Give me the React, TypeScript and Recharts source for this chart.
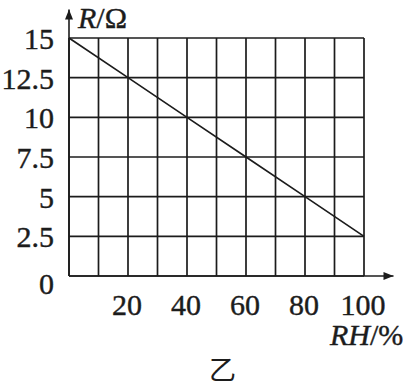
import { CartesianGrid, Line, LineChart, ReferenceLine, XAxis, YAxis } from "recharts";

const rh = [0, 20, 40, 60, 80, 100];
const resistance = [15, 12.5, 10, 7.5, 5, 2.5];
const xTicks = [0, 10, 20, 30, 40, 50, 60, 70, 80, 90, 100];
const yTicks = [0, 2.5, 5, 7.5, 10, 12.5, 15];

const data = rh.map((x, i) => ({ rh: x, r: resistance[i] }));

const ink = "#1c1c1c";
const serif = "Liberation Serif";
const textStyle = { fontFamily: serif, fontSize: 30 };

function Arrow(props: any) {
  const { x1, y1, x2, y2 } = props;
  const vertical = Math.abs(x1 - x2) < 1;
  const head = vertical
    ? `${x2},${y2} ${x2 - 4},${y2 + 10} ${x2 + 4},${y2 + 10}`
    : `${x2},${y2} ${x2 - 10},${y2 - 4} ${x2 - 10},${y2 + 4}`;
  return (
    <g>
      <line x1={x1} y1={y1} x2={x2} y2={y2} stroke={ink} strokeWidth={1.6} />
      <polygon points={head} fill={ink} />
    </g>
  );
}

function XTick({ x, y, payload }: any) {
  const v = payload.value;
  if (v === 0 || v % 20 !== 0) return null;
  return (
    <text x={x - 1} y={y + 31} textAnchor="middle" style={textStyle} fill={ink} stroke={ink} strokeWidth={0.4}>
      {v}
    </text>
  );
}

function YTick({ x, y, payload }: any) {
  const v = payload.value;
  const shift = v === 0 ? 18 : 11;
  return (
    <text x={x - 7} y={y + shift} textAnchor="end" style={textStyle} fill={ink} stroke={ink} strokeWidth={0.4}>
      {v}
    </text>
  );
}

export default function App() {
  return (
    <div style={{ position: "absolute", left: 0, top: 0, width: 409, height: 387, background: "#fff", overflow: "hidden" }}>
      <LineChart width={409} height={387} data={data} margin={{ top: 38, right: 45, bottom: 81, left: 9 }}>
        <CartesianGrid stroke={ink} strokeWidth={1.7} strokeOpacity={1} />
        <XAxis
          dataKey="rh"
          type="number"
          domain={[0, 100]}
          ticks={xTicks}
          interval={0}
          axisLine={false}
          tickLine={false}
          tick={<XTick />}
          height={30}
        />
        <YAxis
          type="number"
          domain={[0, 15]}
          ticks={yTicks}
          interval={0}
          axisLine={false}
          tickLine={false}
          tick={<YTick />}
          width={60}
        />
        <ReferenceLine segment={[{ x: 0, y: 0 }, { x: 0, y: 16.8 }]} ifOverflow="visible" shape={<Arrow />} />
        <ReferenceLine segment={[{ x: 0, y: 0 }, { x: 110, y: 0 }]} ifOverflow="visible" shape={<Arrow />} />
        <Line type="linear" dataKey="r" stroke={ink} strokeWidth={1.7} dot={false} isAnimationActive={false} />
      </LineChart>
      <div style={{ position: "absolute", left: 78, top: 3, fontFamily: serif, fontSize: 30, color: ink, lineHeight: 1, WebkitTextStroke: "0.4px #1c1c1c" }}>
        <i>R</i>/Ω
      </div>
      <div style={{ position: "absolute", left: 330, top: 323, fontFamily: serif, fontSize: 30, color: ink, lineHeight: 0.8, whiteSpace: "nowrap", WebkitTextStroke: "0.4px #1c1c1c" }}>
        <i>RH</i>/%
      </div>
      <div style={{ position: "absolute", left: 209, top: 355, fontFamily: "Noto Sans CJK SC", fontSize: 27, color: ink, lineHeight: 1 }}>
        乙
      </div>
    </div>
  );
}
